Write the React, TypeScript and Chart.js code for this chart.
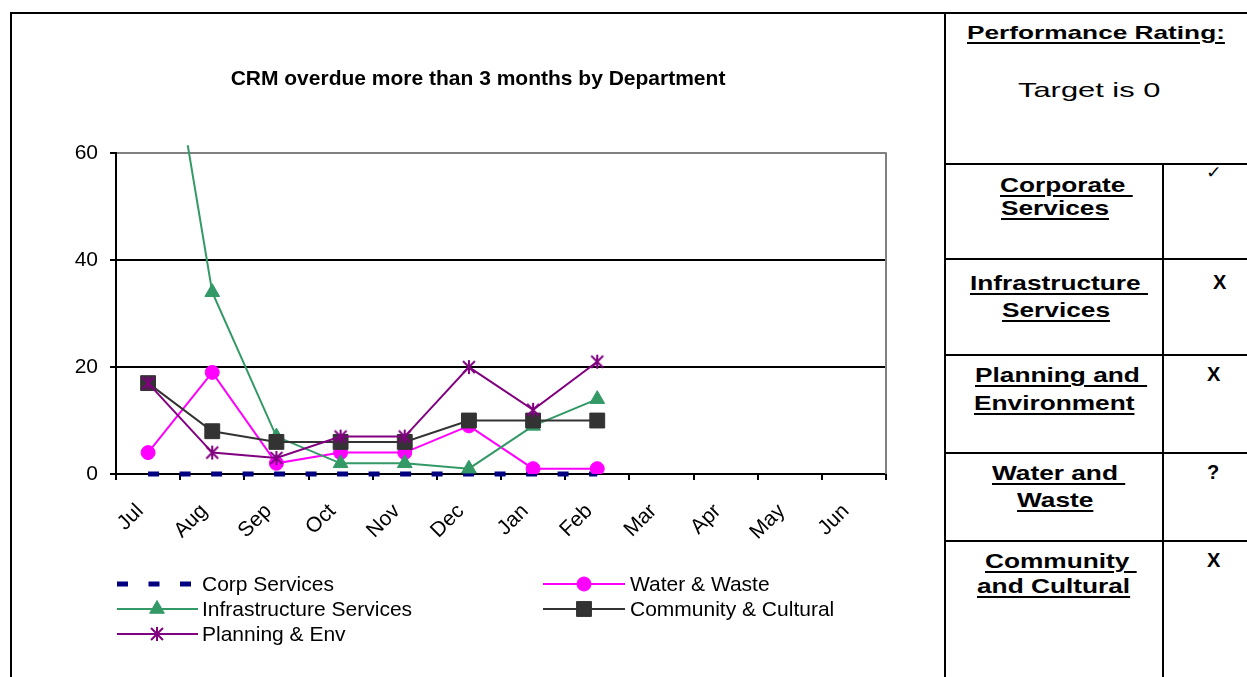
import React, { useEffect, useRef } from "react";
import { Chart, registerables } from "chart.js";

Chart.register(...registerables);

// ---------- data ----------
const months = ["Jul", "Aug", "Sep", "Oct", "Nov", "Dec", "Jan", "Feb", "Mar", "Apr", "May", "Jun"];
const corpServices = [0, 0, 0, 0, 0, 0, 0, 0];
const waterWaste = [4, 19, 2, 4, 4, 9, 1, 1];
const infrastructure = [106, 34, 7, 2, 2, 1, 9, 14];
const communityCultural = [17, 8, 6, 6, 6, 10, 10, 10];
const planningEnv = [17, 4, 3, 7, 7, 20, 12, 21];
const seriesNames = ["Corp Services", "Water & Waste", "Infrastructure Services", "Community & Cultural", "Planning & Env"];
const yMin = 0;
const yMax = 60;
const yStep = 20;
const chartTitle = "CRM overdue more than 3 months by Department";

const FONT = "'Liberation Sans', Arial, Helvetica, sans-serif";

// legend layout (column, row) for each dataset index
const legendLayout = [
  { ds: 0, col: 0, row: 0 },
  { ds: 1, col: 1, row: 0 },
  { ds: 2, col: 0, row: 1 },
  { ds: 3, col: 1, row: 1 },
  { ds: 4, col: 0, row: 2 },
];
const legendCols = [
  { x0: 105, x1: 186, mx: 145, tx: 190 },
  { x0: 531, x1: 613, mx: 572, tx: 618 },
];
const legendRows = [570, 595, 620];

function makeAsterisk(color: string, size = 14, lw = 2) {
  const c = document.createElement("canvas");
  c.width = size + 2;
  c.height = size + 2;
  const ctx = c.getContext("2d")!;
  const m = c.width / 2;
  const r = size / 2;
  const d = r * 0.85;
  ctx.strokeStyle = color;
  ctx.lineWidth = lw;
  ctx.beginPath();
  ctx.moveTo(m - d, m - d);
  ctx.lineTo(m + d, m + d);
  ctx.moveTo(m + d, m - d);
  ctx.lineTo(m - d, m + d);
  ctx.moveTo(m, m - r);
  ctx.lineTo(m, m + r);
  ctx.stroke();
  return c;
}

function drawMarker(ctx: CanvasRenderingContext2D, ds: any, x: number, y: number) {
  const style = ds.pointStyle;
  const r = ds.pointRadius || 0;
  if (!r) return;
  ctx.save();
  ctx.fillStyle = ds.pointBackgroundColor || ds.borderColor;
  ctx.strokeStyle = ds.pointBorderColor || ds.borderColor;
  ctx.lineWidth = 1;
  ctx.setLineDash([]);
  if (style === "circle") {
    ctx.beginPath();
    ctx.arc(x, y, r, 0, Math.PI * 2);
    ctx.fill();
    ctx.stroke();
  } else if (style === "rect") {
    const s = Math.SQRT1_2 * r;
    ctx.beginPath();
    ctx.rect(x - s, y - s, 2 * s, 2 * s);
    ctx.fill();
    ctx.stroke();
  } else if (style === "triangle") {
    ctx.beginPath();
    ctx.moveTo(x, y - r);
    ctx.lineTo(x + r * Math.sin((2 * Math.PI) / 3), y - r * Math.cos((2 * Math.PI) / 3));
    ctx.lineTo(x + r * Math.sin((4 * Math.PI) / 3), y - r * Math.cos((4 * Math.PI) / 3));
    ctx.closePath();
    ctx.fill();
    ctx.stroke();
  } else if (style && typeof style === "object") {
    ctx.drawImage(style, x - style.width / 2, y - style.height / 2);
  }
  ctx.restore();
}

const legendPlugin = {
  id: "customLegend",
  afterDraw(chart: any) {
    const ctx: CanvasRenderingContext2D = chart.ctx;
    legendLayout.forEach((item) => {
      const ds = chart.data.datasets[item.ds];
      const col = legendCols[item.col];
      const y = legendRows[item.row];
      ctx.save();
      ctx.strokeStyle = ds.borderColor;
      ctx.lineWidth = ds.borderWidth;
      ctx.lineCap = "butt";
      ctx.setLineDash(ds.borderDash || []);
      ctx.beginPath();
      ctx.moveTo(col.x0, y);
      ctx.lineTo(col.x1, y);
      ctx.stroke();
      ctx.restore();
      drawMarker(ctx, ds, col.mx, y);
      ctx.save();
      ctx.fillStyle = "#000";
      ctx.font = `21px ${FONT}`;
      ctx.textBaseline = "middle";
      ctx.textAlign = "left";
      ctx.fillText(ds.label, col.tx, y + 1);
      ctx.restore();
    });
  },
};

const framePlugin = {
  id: "plotFrame",
  beforeDatasetsDraw(chart: any) {
    const { ctx, chartArea } = chart;
    ctx.save();
    ctx.strokeStyle = "#808080";
    ctx.lineWidth = 2;
    ctx.beginPath();
    ctx.moveTo(chartArea.right, chartArea.top - 1);
    ctx.lineTo(chartArea.right, chartArea.bottom);
    ctx.stroke();
    ctx.restore();
  },
};

type TProps = {
  left: number;
  top: number;
  size: number;
  bold?: boolean;
  underline?: boolean;
  scale?: number;
  family?: string;
  children: React.ReactNode;
};

function T({ left, top, size, bold, underline, scale = 1, family, children }: TProps) {
  return (
    <div
      style={{
        position: "absolute",
        left,
        top,
        fontSize: size,
        lineHeight: `${size}px`,
        fontFamily: family || FONT,
        fontWeight: bold ? "bold" : "normal",
        whiteSpace: "pre",
        color: "#000",
        transform: `scaleX(${scale})`,
        transformOrigin: "left top",
        textDecoration: underline ? "underline" : "none",
        textDecorationThickness: underline ? "2px" : undefined,
        textUnderlineOffset: underline ? "3px" : undefined,
      }}
    >
      {children}
    </div>
  );
}

function Line({ left, top, width, height }: { left: number; top: number; width: number; height: number }) {
  return <div style={{ position: "absolute", left, top, width, height, background: "#000" }} />;
}

export default function App() {
  const ref = useRef<HTMLCanvasElement>(null);

  useEffect(() => {
    Chart.defaults.font.family = FONT;
    const asterisk = makeAsterisk("#800080", 14, 2);
    const chart = new Chart(ref.current as HTMLCanvasElement, {
      type: "line",
      data: {
        labels: months,
        datasets: [
          {
            label: seriesNames[0],
            data: corpServices,
            borderColor: "#000080",
            backgroundColor: "#000080",
            borderWidth: 5,
            borderDash: [11, 20.5],
            borderCapStyle: "butt",
            pointRadius: 0,
            pointHoverRadius: 0,
            order: 5,
            clip: false,
          },
          {
            label: seriesNames[1],
            data: waterWaste,
            borderColor: "#FF00FF",
            backgroundColor: "#FF00FF",
            pointBackgroundColor: "#FF00FF",
            pointBorderColor: "#FF00FF",
            borderWidth: 2,
            pointStyle: "circle",
            pointRadius: 7,
            pointHoverRadius: 7,
            pointBorderWidth: 1,
            order: 4,
          },
          {
            label: seriesNames[2],
            data: infrastructure,
            borderColor: "#339966",
            backgroundColor: "#339966",
            pointBackgroundColor: "#339966",
            pointBorderColor: "#339966",
            borderWidth: 2,
            pointStyle: "triangle",
            pointRadius: 8.5,
            pointHoverRadius: 8.5,
            pointBorderWidth: 1,
            order: 3,
            clip: { left: 0, top: 8, right: 0, bottom: 0 },
          },
          {
            label: seriesNames[3],
            data: communityCultural,
            borderColor: "#333333",
            backgroundColor: "#333333",
            pointBackgroundColor: "#333333",
            pointBorderColor: "#333333",
            borderWidth: 2,
            pointStyle: "rect",
            pointRadius: 10.5,
            pointHoverRadius: 10.5,
            pointBorderWidth: 1,
            order: 2,
          },
          {
            label: seriesNames[4],
            data: planningEnv,
            borderColor: "#800080",
            backgroundColor: "#800080",
            borderWidth: 2,
            pointStyle: asterisk as any,
            pointRadius: 7,
            pointHoverRadius: 7,
            order: 1,
          },
        ] as any,
      },
      options: {
        animation: false,
        responsive: false,
        events: [],
        layout: { padding: { left: 0, right: 0, top: 0, bottom: 0 } },
        plugins: {
          legend: { display: false },
          tooltip: { enabled: false },
          title: {
            display: true,
            text: chartTitle,
            color: "#000",
            font: { size: 21, weight: "bold", family: FONT },
            padding: { top: 53, bottom: 61 },
          },
        },
        scales: {
          x: {
            type: "category",
            offset: true,
            grid: {
              offset: true,
              drawOnChartArea: false,
              drawTicks: true,
              tickLength: 6,
              color: "#000",
              lineWidth: 2,
            },
            border: { color: "#000", width: 2 },
            ticks: {
              color: "#000",
              font: { size: 21, family: FONT },
              minRotation: 45,
              maxRotation: 45,
              autoSkip: false,
              padding: 19,
              labelOffset: -8,
            },
            afterFit: (s: any) => {
              s.height = 203;
            },
          },
          y: {
            min: yMin,
            max: yMax,
            ticks: {
              stepSize: yStep,
              color: "#000",
              font: { size: 21, family: FONT },
              padding: 12,
            },
            grid: {
              color: (c: any) => (c.tick && c.tick.value === yMax ? "#808080" : "#000"),
              tickColor: "#000",
              lineWidth: 2,
              tickLength: 6,
              drawTicks: true,
            },
            border: { color: "#000", width: 2 },
            afterFit: (s: any) => {
              s.width = 104;
            },
          },
          yRightSpace: {
            type: "linear",
            position: "right",
            display: true,
            grid: { display: false, drawTicks: false },
            border: { display: false },
            ticks: { display: false },
            afterFit: (s: any) => {
              s.width = 58;
            },
          },
        },
      } as any,
      plugins: [framePlugin, legendPlugin],
    });
    return () => chart.destroy();
  }, []);

  return (
    <div
      style={{
        position: "fixed",
        left: 0,
        top: 0,
        width: 1247,
        height: 677,
        overflow: "hidden",
        background: "#fff",
        fontFamily: FONT,
      }}
    >
      {/* table frame */}
      <Line left={10} top={12} width={1300} height={2} />
      <Line left={10} top={12} width={2} height={700} />
      <Line left={944} top={12} width={2} height={700} />
      <Line left={944} top={163} width={400} height={2} />
      <Line left={944} top={258} width={400} height={2} />
      <Line left={944} top={354} width={400} height={2} />
      <Line left={944} top={452} width={400} height={2} />
      <Line left={944} top={540} width={400} height={2} />
      <Line left={1162} top={163} width={2} height={600} />

      <canvas
        ref={ref}
        width={932}
        height={663}
        style={{ position: "absolute", left: 12, top: 14, width: 932, height: 663 }}
      />

      {/* right panel */}
      <T left={967} top={22.5} size={19} bold underline scale={1.38}>
        Performance Rating:
      </T>
      <T left={1018} top={79.3} size={21} scale={1.47}>
        Target is 0
      </T>

      <T left={1000} top={174.3} size={21} bold underline scale={1.25}>
        {"Corporate\u00A0"}
      </T>
      <T left={1001} top={197.3} size={21} bold underline scale={1.25}>
        Services
      </T>
      <T left={1206} top={164} size={17} scale={1.1} family="'DejaVu Sans', sans-serif">
        {"\u2713"}
      </T>

      <T left={970} top={272.3} size={21} bold underline scale={1.25}>
        {"Infrastructure\u00A0"}
      </T>
      <T left={1002} top={299.3} size={21} bold underline scale={1.25}>
        Services
      </T>
      <T left={1213} top={272.4} size={20} bold>
        X
      </T>

      <T left={975} top={364.3} size={21} bold underline scale={1.25}>
        {"Planning and\u00A0"}
      </T>
      <T left={974} top={392.3} size={21} bold underline scale={1.25}>
        Environment
      </T>
      <T left={1207} top={364.4} size={20} bold>
        X
      </T>

      <T left={992} top={462.3} size={21} bold underline scale={1.25}>
        {"Water and\u00A0"}
      </T>
      <T left={1017} top={489.3} size={21} bold underline scale={1.25}>
        Waste
      </T>
      <T left={1207} top={462.4} size={20} bold>
        ?
      </T>

      <T left={985} top={550.3} size={21} bold underline scale={1.25}>
        {"Community\u00A0"}
      </T>
      <T left={977} top={575.3} size={21} bold underline scale={1.25}>
        and Cultural
      </T>
      <T left={1207} top={550.4} size={20} bold>
        X
      </T>
    </div>
  );
}
